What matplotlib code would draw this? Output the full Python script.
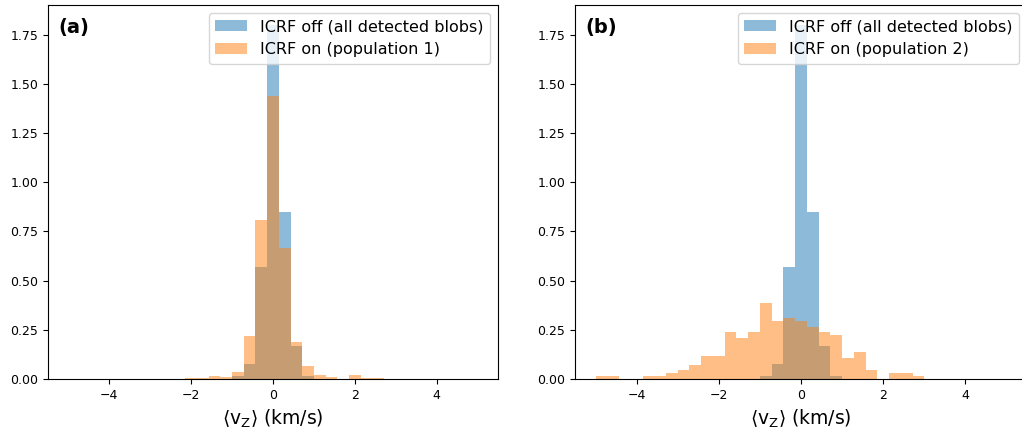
import numpy as np
import matplotlib
matplotlib.use("Agg")
import matplotlib.pyplot as plt

# Common bin edges: 35 bins over [-5, 5] km/s
bin_edges = np.linspace(-5, 5, 36)

# Probability density per bin, ICRF off (all detected blobs)
icrf_off = [0, 0, 0, 0, 0, 0, 0, 0, 0, 0,
            0, 0, 0, 0, 0.015, 0.075, 0.571, 1.80, 0.848, 0.170,
            0.015, 0, 0, 0, 0, 0, 0, 0, 0, 0,
            0, 0, 0, 0, 0]

# ICRF on, population 1
icrf_on_pop1 = [0, 0, 0, 0, 0, 0, 0, 0, 0, 0,
                0.007, 0.007, 0.017, 0.009, 0.036, 0.220, 0.809, 1.436, 0.665, 0.190,
                0.066, 0.021, 0.010, 0, 0.021, 0.007, 0.007, 0, 0, 0,
                0, 0, 0, 0, 0]

# ICRF on, population 2
icrf_on_pop2 = [0.014, 0.014, 0, 0, 0.014, 0.014, 0.029, 0.046, 0.073, 0.119,
                0.119, 0.237, 0.209, 0.237, 0.385, 0.297, 0.311, 0.297, 0.266, 0.237,
                0.224, 0.105, 0.135, 0.046, 0, 0.031, 0.031, 0.017, 0, 0,
                0, 0, 0, 0, 0]

panel_tags = ["(a)", "(b)"]
on_labels = ["ICRF on (population 1)", "ICRF on (population 2)"]
off_label = "ICRF off (all detected blobs)"
xlabel = r"$\langle\mathrm{v}_\mathrm{Z}\rangle$ (km/s)"

W, H = 1022, 432
fig = plt.figure(figsize=(W / 100, H / 100), dpi=100)

# axes boxes in pixels (left, top, width, height); the right panel runs
# slightly past the canvas edge
axes_px = [(48, 5, 450, 374), (575, 5, 452, 374)]
on_series = [icrf_on_pop1, icrf_on_pop2]

left_edges = bin_edges[:-1]
for (x0, y0, w, h), tag, on_vals, on_lab in zip(axes_px, panel_tags,
                                                on_series, on_labels):
    ax = fig.add_axes([x0 / W, 1 - (y0 + h) / H, w / W, h / H])
    ax.hist(left_edges, bins=bin_edges, weights=icrf_off, alpha=0.5,
            color="C0", label=off_label)
    ax.hist(left_edges, bins=bin_edges, weights=on_vals, alpha=0.5,
            color="C1", label=on_lab)
    ax.set_xlim(-5.5, 5.5)
    ax.set_ylim(0, 1.90)
    ax.set_xticks([-4, -2, 0, 2, 4])
    ax.set_yticks(np.arange(0, 1.76, 0.25))
    ax.tick_params(labelsize=9)
    ax.set_xlabel(xlabel, fontsize=13.5)
    ax.legend(loc="upper right", fontsize=11.5)
    ax.text(0.022, 0.965, tag, transform=ax.transAxes, fontsize=14,
            fontweight="bold", va="top", ha="left")

fig.savefig("out.png", dpi=100)
